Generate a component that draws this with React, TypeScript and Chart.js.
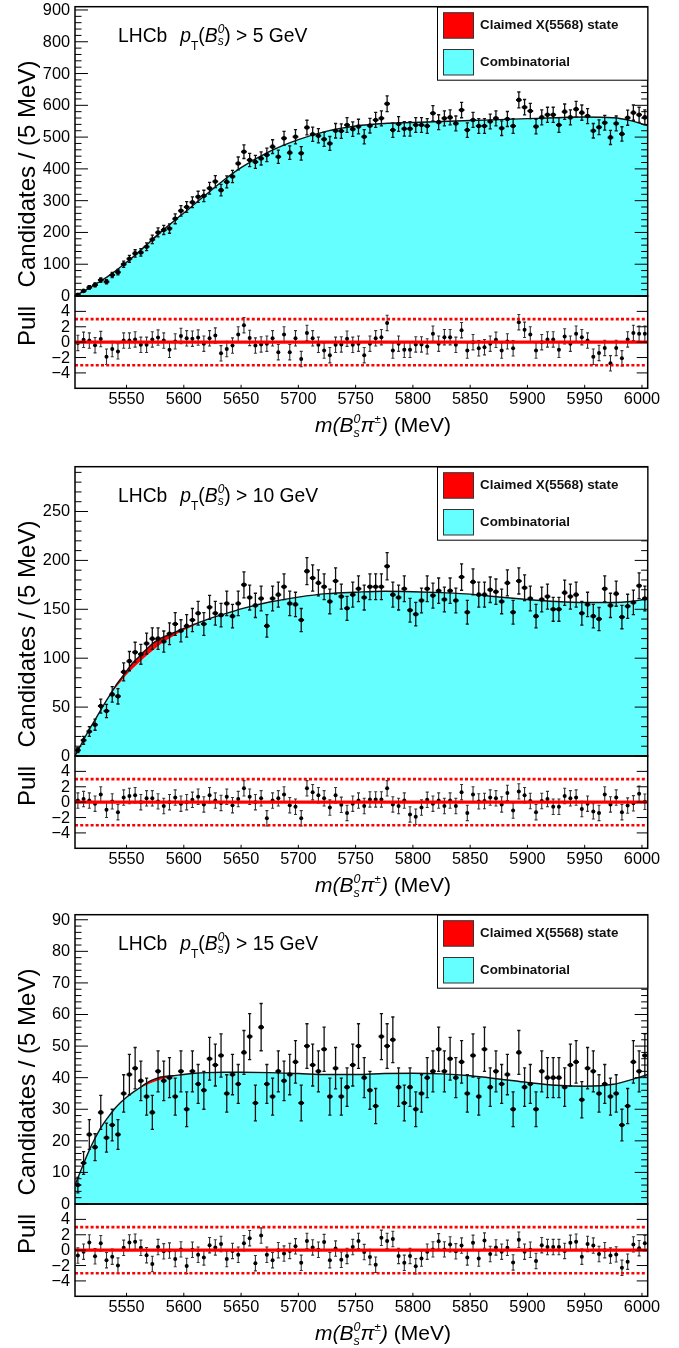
import React, { useEffect, useRef } from "react";
import { Chart, registerables } from "chart.js";

Chart.register(...registerables);

const FONT = "'Liberation Sans', Arial, Helvetica, sans-serif";

// ---------------- binning / axes ----------------
const X_MIN = 5505;
const X_MAX = 6005;
const BIN_WIDTH = 5;
const BIN_CENTERS = Array.from({ length: 100 }, (_, i) => X_MIN + BIN_WIDTH * (i + 0.5));
const X_TICKS = [5550, 5600, 5650, 5700, 5750, 5800, 5850, 5900, 5950, 6000];
const PULL_MIN = -6;
const PULL_MAX = 6;
const PULL_TICKS = [-4, -2, 0, 2, 4];
const PULL_LIMITS = [-3, 3];
const PULL_ZERO = 0;

// x positions where the fit curves are sampled
const CURVE_X = [5505, 5510, 5515, 5520, 5525, 5530, 5535, 5540, 5545, 5550, 5555, 5560, 5565, 5570, 5575, 5580, 5585, 5590, 5595, 5600, 5610, 5620, 5635, 5650, 5675, 5700, 5725, 5750, 5775, 5800, 5825, 5850, 5875, 5900, 5925, 5950, 5975, 5990, 6005];

// ---------------- panel 1 : pT > 5 GeV ----------------
const P1_COUNTS = [4, 16, 27, 35, 50, 45, 66, 75, 100, 117, 134, 137, 155, 178, 200, 208, 212, 243, 268, 280, 295, 312, 315, 339, 360, 333, 359, 376, 417, 454, 428, 422, 433, 444, 470, 438, 496, 451, 501, 449, 530, 509, 504, 493, 480, 520, 519, 538, 525, 533, 501, 536, 554, 559, 605, 522, 541, 526, 526, 538, 538, 535, 575, 547, 559, 562, 543, 585, 522, 554, 535, 535, 549, 559, 528, 557, 535, 617, 594, 582, 533, 562, 570, 570, 538, 580, 562, 588, 577, 566, 520, 531, 545, 499, 543, 510, 561, 577, 570, 562];
const P1_PULLS = [-0.1, 0.3, 0.2, -0.4, 0.4, -1.9, -0.9, -1.2, 0.2, 0.2, 0.35, -0.35, -0.35, 0.35, 0.6, 0.2, -1.0, 0.1, 0.8, 0.5, 0.45, 0.6, -0.2, 0.5, 0.85, -1.45, -0.9, -0.45, 1.0, 2.2, 0.55, -0.45, -0.3, -0.2, 0.5, -1.3, 1.0, -1.3, 0.5, -2.2, 1.2, 0.5, -0.35, -1.1, -1.7, -0.35, -0.3, 0.45, -0.35, -0.2, -1.7, -0.2, 0.5, 0.65, 2.5, -1.1, -0.2, -1.0, -1.0, -0.3, -0.3, -0.55, 1.1, -0.2, 0.65, 0.65, -0.35, 1.55, -1.1, 0, -0.8, -0.65, -0.2, 0.3, -1.1, 0.1, -0.8, 2.6, 1.6, 1.0, -1.1, 0, 0.35, 0.35, -1.0, 0.75, -0.2, 1.1, 0.65, 0.2, -1.9, -1.4, -0.75, -2.75, -0.75, -2.1, 0.35, 1.2, 1.1, 1.1];
const P1_COMB = [0, 10, 20, 31, 42, 53, 65, 78, 92, 106, 121, 136, 151, 166, 182, 198, 214, 230, 246, 261, 291, 321, 365, 404, 455, 492, 519, 535, 543, 546, 549, 552, 555, 558, 561, 563, 561, 552, 536];
const P1_TOTAL = [0, 10, 20, 31, 42, 53, 65, 78, 92, 106, 121, 137, 153, 169, 186, 202, 217, 232, 247, 261, 291, 321, 365, 404, 455, 492, 519, 535, 543, 546, 549, 552, 555, 558, 561, 563, 561, 552, 536];

// ---------------- panel 2 : pT > 10 GeV ----------------
const P2_COUNTS = [6, 16, 25, 32, 51, 46, 63, 61, 86, 97, 106, 104, 115, 120, 120, 117, 125, 135, 128, 133, 139, 146, 135, 152, 146, 144, 156, 143, 156, 175, 162, 154, 161, 133, 161, 165, 173, 156, 155, 139, 189, 182, 177, 173, 158, 179, 163, 151, 165, 171, 162, 173, 173, 173, 194, 165, 162, 171, 149, 145, 159, 171, 164, 169, 160, 169, 159, 183, 147, 178, 165, 165, 170, 168, 158, 177, 147, 179, 172, 161, 143, 160, 163, 150, 150, 167, 163, 165, 146, 155, 143, 140, 171, 154, 166, 142, 153, 157, 174, 161];
const P2_PULLS = [0.2, 0.4, 0.2, -0.2, 1.0, -1.0, 0.1, -1.3, 0.6, 0.8, 0.9, 0, 0.5, 0.5, 0.1, -0.5, 0, 0.6, -0.2, 0, 0.3, 0.7, -0.3, 0.9, 0.2, -0.1, 0.7, -0.4, 0.4, 1.8, 0.7, 0, 0.5, -2.1, 0.2, 0.5, 1.0, -0.4, -0.6, -2.1, 1.8, 1.3, 0.9, 0.5, -0.7, 0.9, -0.35, -1.4, -0.2, 0.2, -0.5, 0.35, 0.35, 0.35, 1.8, -0.3, -0.5, 0.2, -1.6, -1.9, -0.7, 0.3, -0.2, 0.2, -0.5, 0.2, -0.5, 1.3, -1.4, 1.0, 0.1, 0.15, 0.6, 0.5, -0.3, 1.2, -1.1, 1.4, 0.9, 0.15, -1.3, 0.15, 0.4, -0.6, -0.6, 0.8, 0.5, 0.6, -0.9, -0.2, -1.2, -1.4, 1.0, -0.3, 0.6, -1.3, -0.45, -0.15, 1.1, 0.05];
const P2_COMB = [0, 11, 22, 32, 42, 52, 61, 69, 76, 83, 89, 94.5, 100, 105, 110, 114.5, 118.5, 122, 125.5, 128.5, 134, 139, 145, 150.5, 157.5, 162.5, 166, 167.5, 168.5, 168, 167, 165.5, 162.5, 160, 158, 157, 157, 158, 160.5];
const P2_TOTAL = [0, 11, 22, 32, 42, 52, 61.5, 71, 79, 87, 94.5, 100.5, 106.5, 112, 117, 120.5, 123, 125.5, 128, 130.5, 135, 139.5, 145, 150.5, 157.5, 162.5, 166, 167.5, 168.5, 168, 167, 165.5, 162.5, 160, 158, 157, 157, 158, 160.5];

// ---------------- panel 3 : pT > 15 GeV ----------------
const P3_COUNTS = [6, 13, 22, 18, 29, 21, 25, 22, 35, 41, 43, 39, 34, 29, 42, 39, 40, 34, 42, 30, 42, 38, 36, 46, 44, 47, 35, 41, 38, 48, 53, 32, 56, 38, 34, 42, 39, 41, 45, 32, 50, 44, 42, 49, 34, 43, 34, 37, 44, 50, 40, 36, 31, 53, 50, 52, 37, 32, 37, 30, 35, 40, 42, 49, 42, 46, 40, 45, 35, 47, 34, 49, 37, 42, 38, 41, 30, 48, 37, 38, 30, 42, 40, 40, 40, 37, 44, 45, 33, 43, 42, 35, 38, 34, 35, 25, 31, 45, 42, 47];
const P3_PULLS = [-0.7, -0.2, 1.0, -0.8, 0.9, -1.3, -0.85, -2.0, 0.3, 1.0, 1.1, 0.3, -0.65, -1.8, 0.4, -0.15, -0.05, -1.15, 0.1, -2.05, 0.05, -0.6, -0.95, 0.65, 0.35, 0.8, -1.15, -0.1, -0.6, 0.9, 1.55, -1.7, 1.9, -0.6, -1.3, 0, -0.45, -0.1, 0.5, -1.65, 1.2, 0.35, 0.05, 1.05, -1.3, 0.2, -1.25, -0.75, 0.4, 1.2, -0.25, -0.9, -1.9, 1.6, 1.2, 1.45, -0.75, -1.65, -0.75, -2.1, -1.1, -0.2, 0.1, 1.15, 0.1, 0.75, -0.15, 0.6, -0.95, 0.95, -1.1, 1.25, -0.5, 0.35, -0.2, 0.3, -1.6, 1.35, -0.2, 0.05, -1.4, 0.65, 0.4, 0.4, 0.4, -0.1, 0.95, 1.1, -0.85, 0.8, 0.6, -0.5, 0, -0.7, -0.55, -2.3, -1.5, 0.75, 0.25, 0.9];
const P3_COMB = [6, 10.5, 15, 19, 22.5, 25.5, 28, 30.3, 32.2, 33.8, 35.2, 36.3, 37.3, 38.1, 38.8, 39.4, 39.9, 40.3, 40.7, 41.0, 41.4, 41.6, 41.7, 41.7, 41.6, 41.3, 41.0, 41.0, 41.3, 41.4, 41.2, 40.6, 39.6, 38.5, 37.6, 37.3, 37.9, 39.3, 41.0];
const P3_TOTAL = [6, 10.5, 15, 19, 22.5, 25.5, 28, 30.3, 32.2, 33.8, 35.2, 36.4, 37.7, 38.8, 39.6, 40.2, 40.5, 40.6, 40.8, 41.0, 41.4, 41.6, 41.7, 41.7, 41.6, 41.3, 41.0, 41.0, 41.3, 41.4, 41.2, 40.6, 39.6, 38.5, 37.6, 37.3, 37.9, 39.3, 41.0];

type PanelDef = {
  top: number;
  cut: string;
  counts: number[];
  pulls: number[];
  comb: number[];
  total: number[];
  yMax: number;
  yStep: number;
  yMinor: number;
};

const PANELS: PanelDef[] = [
  { top: 0, cut: "5", counts: P1_COUNTS, pulls: P1_PULLS, comb: P1_COMB, total: P1_TOTAL, yMax: 910.3, yStep: 100, yMinor: 20 },
  { top: 460, cut: "10", counts: P2_COUNTS, pulls: P2_PULLS, comb: P2_COMB, total: P2_TOTAL, yMax: 295.8, yStep: 50, yMinor: 10 },
  { top: 908, cut: "15", counts: P3_COUNTS, pulls: P3_PULLS, comb: P3_COMB, total: P3_TOTAL, yMax: 91.6, yStep: 10, yMinor: 2 },
];

const CYAN = "#66ffff";
const RED = "#ff0000";

// ---------------- rich text helper ----------------
type Seg = { t?: string; it?: boolean; b?: boolean; size?: number; dy?: number; gap?: number; stack?: Seg[] };
const fontOf = (s: Seg) => `${s.it ? "italic " : ""}${s.b ? "bold " : ""}${s.size}px ${FONT}`;
function drawRich(ctx: CanvasRenderingContext2D, x: number, y: number, segs: Seg[], draw = true): number {
  let cx = x;
  for (const s of segs) {
    if (s.gap) {
      cx += s.gap;
      continue;
    }
    if (s.stack) {
      let w = 0;
      for (const q of s.stack) {
        ctx.font = fontOf(q);
        if (draw) ctx.fillText(q.t as string, cx, y + (q.dy || 0));
        w = Math.max(w, ctx.measureText(q.t as string).width);
      }
      cx += w;
      continue;
    }
    ctx.font = fontOf(s);
    if (draw) ctx.fillText(s.t as string, cx, y + (s.dy || 0));
    cx += ctx.measureText(s.t as string).width;
  }
  return cx - x;
}

function xTitleSegs(): Seg[] {
  const S = 21;
  const s = 12.5;
  return [
    { t: "m", it: true, size: S },
    { t: "(", it: true, size: S },
    { t: "B", it: true, size: S },
    { stack: [{ t: "0", it: true, size: s, dy: -9.5 }, { t: "s", it: true, size: s, dy: 4.5 }] },
    { t: "π", it: true, size: S },
    { t: "±", size: s - 1, dy: -9.5 },
    { t: ")", it: true, size: S },
    { t: " (MeV)", size: S },
  ];
}

function labelSegs(cut: string): Seg[] {
  const S = 19.3;
  const s = 12;
  return [
    { t: "LHCb", size: S },
    { gap: 13 },
    { t: "p", it: true, size: S },
    { t: "T", size: s, dy: 8 },
    { t: "(", size: S },
    { t: "B", it: true, size: S },
    { stack: [{ t: "0", it: true, size: s, dy: -8.7 }, { t: "s", it: true, size: s, dy: 3 }] },
    { t: ")", size: S },
    { t: ` > ${cut} GeV`, size: S },
  ];
}

function Panel({ p }: { p: PanelDef }) {
  const mainRef = useRef<HTMLCanvasElement>(null);
  const pullRef = useRef<HTMLCanvasElement>(null);

  useEffect(() => {
    const DATA_INDEX = 2;
    const mainPlugin = {
      id: "mainDecor",
      beforeDatasetDraw(chart: any, args: any) {
        if (args.index !== DATA_INDEX) return;
        const ctx: CanvasRenderingContext2D = chart.ctx;
        const xs = chart.scales.x;
        const ys = chart.scales.y;
        const a = chart.chartArea;
        ctx.save();
        ctx.beginPath();
        ctx.rect(a.left, a.top, a.right - a.left, a.bottom - a.top);
        ctx.clip();
        ctx.strokeStyle = "#111";
        p.counts.forEach((n, i) => {
          const xc = BIN_CENTERS[i];
          const e = Math.sqrt(n);
          const px = xs.getPixelForValue(xc);
          const py = ys.getPixelForValue(n);
          const y1 = ys.getPixelForValue(n + e);
          const y2 = ys.getPixelForValue(Math.max(0, n - e));
          const x1 = xs.getPixelForValue(xc - BIN_WIDTH / 2);
          const x2 = xs.getPixelForValue(xc + BIN_WIDTH / 2);
          ctx.lineWidth = 1.3;
          ctx.beginPath();
          ctx.moveTo(px, y1);
          ctx.lineTo(px, y2);
          ctx.moveTo(px - 1.6, y1);
          ctx.lineTo(px + 1.6, y1);
          ctx.moveTo(px - 1.6, y2);
          ctx.lineTo(px + 1.6, y2);
          ctx.stroke();
          ctx.lineWidth = 2;
          ctx.beginPath();
          ctx.moveTo(x1, py);
          ctx.lineTo(x2, py);
          ctx.stroke();
        });
        ctx.restore();
      },
      afterDraw(chart: any) {
        const ctx: CanvasRenderingContext2D = chart.ctx;
        const ys = chart.scales.y;
        const { left, right, top, bottom } = chart.chartArea;
        ctx.save();
        // y ticks (inward, both sides) + labels
        ctx.strokeStyle = "#000";
        ctx.lineWidth = 1;
        const ratio = Math.round(p.yStep / p.yMinor);
        const nMinor = Math.floor(p.yMax / p.yMinor + 1e-9);
        ctx.fillStyle = "#000";
        ctx.font = `16.3px ${FONT}`;
        ctx.textAlign = "right";
        ctx.textBaseline = "middle";
        for (let k = 0; k <= nMinor; k++) {
          const v = k * p.yMinor;
          const py = ys.getPixelForValue(v);
          const major = k % ratio === 0;
          const len = major ? 13 : 6.5;
          ctx.beginPath();
          ctx.moveTo(left, py);
          ctx.lineTo(left + len, py);
          ctx.moveTo(right, py);
          ctx.lineTo(right - len, py);
          ctx.stroke();
          if (major) ctx.fillText(String(v), left - 5, py + 0.5);
        }
        // frame
        ctx.lineWidth = 1.5;
        ctx.strokeRect(left, top, right - left, bottom - top);
        // y title
        ctx.save();
        ctx.translate(35, 174);
        ctx.rotate(-Math.PI / 2);
        ctx.textAlign = "center";
        ctx.textBaseline = "alphabetic";
        ctx.font = `24px ${FONT}`;
        ctx.fillText("Candidates / (5 MeV)", 0, 0);
        ctx.restore();
        // LHCb label
        ctx.textAlign = "left";
        ctx.textBaseline = "alphabetic";
        drawRich(ctx, 118, 42, labelSegs(p.cut));
        // legend
        const lx = 437;
        const lw = right - lx;
        ctx.fillStyle = "#fff";
        ctx.fillRect(lx, top + 0.5, lw, 73);
        ctx.lineWidth = 1;
        ctx.strokeStyle = "#000";
        ctx.strokeRect(lx + 0.5, top + 0.5, lw - 0.5, 73);
        const entries = [
          { c: RED, t: "Claimed X(5568) state", y: 12.7 },
          { c: CYAN, t: "Combinatorial", y: 49.5 },
        ];
        ctx.textBaseline = "middle";
        for (const e of entries) {
          ctx.fillStyle = e.c;
          ctx.fillRect(443.5, e.y, 30, 25.5);
          ctx.strokeStyle = "#333";
          ctx.strokeRect(443.5, e.y, 30, 25.5);
          ctx.fillStyle = "#111";
          ctx.font = `bold 13.4px ${FONT}`;
          ctx.fillText(e.t, 480, e.y + 13);
        }
        ctx.restore();
      },
    };

    const mainChart = new Chart(mainRef.current as HTMLCanvasElement, {
      type: "line",
      data: {
        datasets: [
          {
            label: "Combinatorial",
            data: CURVE_X.map((x, k) => ({ x, y: p.comb[k] })),
            borderColor: "rgba(0,0,0,0)",
            borderWidth: 0,
            backgroundColor: CYAN,
            fill: "origin",
            pointRadius: 0,
            cubicInterpolationMode: "monotone",
            order: 3,
          },
          {
            label: "Claimed X(5568) state",
            data: CURVE_X.map((x, k) => ({ x, y: p.total[k] })),
            borderColor: "#111",
            borderWidth: 1.4,
            backgroundColor: RED,
            fill: "-1",
            pointRadius: 0,
            cubicInterpolationMode: "monotone",
            order: 2,
          },
          {
            type: "scatter",
            label: "Data",
            data: BIN_CENTERS.map((x, i) => ({ x, y: p.counts[i] })),
            pointRadius: 2.3,
            pointBackgroundColor: "#000",
            pointBorderWidth: 0,
            showLine: false,
            order: 1,
          } as any,
        ],
      },
      options: {
        responsive: false,
        animation: false,
        events: [],
        layout: { padding: { left: 75, top: 6.7, right: 31.3, bottom: 14 } },
        plugins: { legend: { display: false }, tooltip: { enabled: false } },
        scales: {
          x: { type: "linear", min: X_MIN, max: X_MAX, display: false },
          y: { type: "linear", min: 0, max: p.yMax, display: false },
        },
      },
      plugins: [mainPlugin],
    } as any);

    const PULL_POINTS_INDEX = 3;
    const pullPlugin = {
      id: "pullDecor",
      beforeDatasetDraw(chart: any, args: any) {
        if (args.index !== PULL_POINTS_INDEX) return;
        const ctx: CanvasRenderingContext2D = chart.ctx;
        const xs = chart.scales.x;
        const ys = chart.scales.y;
        ctx.save();
        ctx.strokeStyle = "#333";
        ctx.lineWidth = 1.1;
        p.pulls.forEach((v, i) => {
          const px = xs.getPixelForValue(BIN_CENTERS[i]);
          const y1 = ys.getPixelForValue(v + 1);
          const y2 = ys.getPixelForValue(v - 1);
          ctx.beginPath();
          ctx.moveTo(px, y1);
          ctx.lineTo(px, y2);
          ctx.moveTo(px - 1.5, y1);
          ctx.lineTo(px + 1.5, y1);
          ctx.moveTo(px - 1.5, y2);
          ctx.lineTo(px + 1.5, y2);
          ctx.stroke();
        });
        ctx.restore();
      },
      afterDraw(chart: any) {
        const ctx: CanvasRenderingContext2D = chart.ctx;
        const xs = chart.scales.x;
        const ys = chart.scales.y;
        const { left, right, top, bottom } = chart.chartArea;
        ctx.save();
        ctx.strokeStyle = "#000";
        ctx.fillStyle = "#000";
        ctx.lineWidth = 1;
        // y ticks
        ctx.font = `16.3px ${FONT}`;
        ctx.textAlign = "right";
        ctx.textBaseline = "middle";
        for (const v of PULL_TICKS) {
          const py = ys.getPixelForValue(v);
          ctx.beginPath();
          ctx.moveTo(left, py);
          ctx.lineTo(left + 11, py);
          ctx.moveTo(right, py);
          ctx.lineTo(right - 11, py);
          ctx.stroke();
          ctx.fillText(v < 0 ? `\u2212${-v}` : String(v), left - 5, py + 0.5);
        }
        // x ticks
        ctx.textAlign = "center";
        ctx.textBaseline = "alphabetic";
        for (const v of X_TICKS) {
          const px = xs.getPixelForValue(v);
          ctx.beginPath();
          ctx.moveTo(px, bottom);
          ctx.lineTo(px, bottom - 3.5);
          ctx.stroke();
          ctx.fillText(String(v), px, bottom + 15.5);
        }
        // frame
        ctx.lineWidth = 1.5;
        ctx.strokeRect(left, top, right - left, bottom - top);
        // Pull title
        ctx.save();
        ctx.translate(35, 36);
        ctx.rotate(-Math.PI / 2);
        ctx.textAlign = "center";
        ctx.font = `24px ${FONT}`;
        ctx.fillText("Pull", 0, 0);
        ctx.restore();
        // x title
        ctx.textAlign = "left";
        const segs = xTitleSegs();
        const w = drawRich(ctx, 0, 0, segs, false);
        drawRich(ctx, 383 - w / 2, 142, segs);
        ctx.restore();
      },
    };

    const pullChart = new Chart(pullRef.current as HTMLCanvasElement, {
      type: "line",
      data: {
        datasets: [
          {
            label: "zero",
            data: [{ x: X_MIN, y: PULL_ZERO }, { x: X_MAX, y: PULL_ZERO }],
            borderColor: RED,
            borderWidth: 3.2,
            pointRadius: 0,
            fill: false,
            order: 0,
          },
          ...PULL_LIMITS.map((lim) => ({
            label: `limit ${lim}`,
            data: [{ x: X_MIN, y: lim }, { x: X_MAX, y: lim }],
            borderColor: RED,
            borderWidth: 2.6,
            borderDash: [3, 2.2],
            pointRadius: 0,
            fill: false,
            order: 0,
          })),
          {
            type: "scatter",
            label: "pull",
            data: BIN_CENTERS.map((x, i) => ({ x, y: p.pulls[i] })),
            pointRadius: 2,
            pointBackgroundColor: "#000",
            pointBorderWidth: 0,
            showLine: false,
            order: 2,
          } as any,
        ],
      },
      options: {
        responsive: false,
        animation: false,
        events: [],
        layout: { padding: { left: 75, top: 6, right: 31.3, bottom: 51.7 } },
        plugins: { legend: { display: false }, tooltip: { enabled: false } },
        scales: {
          x: { type: "linear", min: X_MIN, max: X_MAX, display: false },
          y: { type: "linear", min: PULL_MIN, max: PULL_MAX, display: false },
        },
      },
      plugins: [pullPlugin],
    } as any);

    return () => {
      mainChart.destroy();
      pullChart.destroy();
    };
  }, [p]);

  return (
    <>
      <canvas
        ref={mainRef}
        width={679}
        height={310}
        style={{ position: "absolute", left: 0, top: p.top, width: 679, height: 310, display: "block" }}
      />
      <canvas
        ref={pullRef}
        width={679}
        height={150}
        style={{ position: "absolute", left: 0, top: p.top + 290, width: 679, height: 150, display: "block" }}
      />
    </>
  );
}

export default function App() {
  return (
    <div
      style={{
        position: "absolute",
        left: 0,
        top: 0,
        width: 679,
        height: 1348,
        overflow: "hidden",
        background: "#fff",
      }}
    >
      {PANELS.map((p, i) => (
        <Panel key={i} p={p} />
      ))}
    </div>
  );
}
